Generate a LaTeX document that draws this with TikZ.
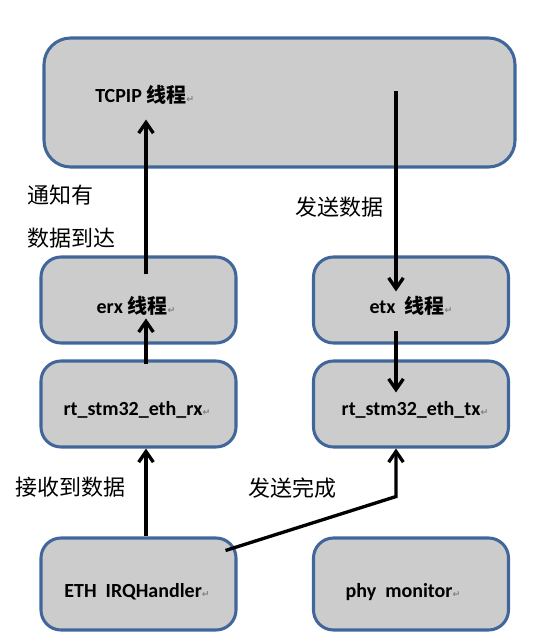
\documentclass[tikz,border=0pt]{standalone}
\usepackage{fontspec}
\setmainfont{Carlito}
\newfontfamily\cjk{Noto Sans CJK SC}
\newfontfamily\dv{DejaVu Sans}
\usetikzlibrary{arrows.meta,calc}
\definecolor{boxfill}{HTML}{CCCCCC}
\definecolor{boxline}{HTML}{41679A}
\newcommand{\pmark}{{\dv\color{gray}\fontsize{7}{7}\selectfont ↵}}
\begin{document}
\begin{tikzpicture}[x=0.75pt,y=-0.75pt,
 box/.style={draw=boxline, fill=boxfill, line width=2.3pt, rounded corners=15pt, inner sep=0pt, minimum width=146.25pt, minimum height=64.5pt},
 boxtext/.style={font=\fontsize{15}{18}\selectfont\bfseries, anchor=base, inner sep=0pt},
 lab/.style={font=\cjk\fontsize{16.5}{20}\selectfont, anchor=west, inner sep=0pt},
 arr/.style={line width=2.5pt, -{Straight Barb[length=8pt,width=11pt,line width=2.5pt]}}]
\useasboundingbox (0,0) rectangle (548,643);
% boxes
\node[box, minimum width=353.25pt, minimum height=96.75pt, rounded corners=20pt] (tcpip) at (279.5,102.5) {};
\node[box] (erx) at (138.5,300) {};
\node[box] (etx) at (411,300) {};
\node[box] (rtrx) at (138.5,404) {};
\node[box] (rttx) at (411,404) {};
\node[box, minimum height=69pt] (eth) at (138.5,584) {};
\node[box, minimum height=69pt] (phy) at (411,584) {};
% box texts
\node[boxtext, anchor=base west] (tcpipT) at (95,102) {TCPIP {\cjk 线程}\pmark};
\node[boxtext] (erxT) at (136,313) {erx {\cjk 线程}\pmark};
\node[boxtext] (etxT) at (411,313) {etx\ \ {\cjk 线程}\pmark};
\node[boxtext] (rtrxT) at (137,415) {rt\_stm32\_eth\_rx\pmark};
\node[boxtext] (rttxT) at (415,415) {rt\_stm32\_eth\_tx\pmark};
\node[boxtext] (ethT) at (137,597) {ETH\ \ IRQHandler\pmark};
\node[boxtext] (phyT) at (403,597) {phy\ \ monitor\pmark};
% labels
\node[lab] (l1) at (27,195) {通知有};
\node[lab] (l2) at (27,238) {数据到达};
\node[lab] (l3) at (295,207) {发送数据};
\node[lab] (l4) at (15,487) {接收到数据};
\node[lab] (l5) at (248,488) {发送完成};
% connectors
\coordinate (xL) at (146,0);
\coordinate (xR) at (396,0);
\draw[arr] (eth.north -| xL) -- (rtrx.south -| xL);
\draw[arr] ($(rtrx.north -| xL)+(0,5)$) -- ($(erx.north -| xL)+(0,63)$);
\draw[arr] ($(erx.north -| xL)+(0,19)$) -- ($(tcpip.south -| xL)+(0,-49)$);
\draw[arr] ($(tcpip.north -| xR)+(0,55)$) -- ($(etx.north -| xR)+(0,36)$);
\draw[arr] ($(etx.south -| xR)+(0,-14)$) -- ($(rttx.north -| xR)+(0,33)$);
\draw[arr] ($(eth.north east)+(-12,14)$) -- ($(rttx.south -| xR)+(0,48)$) -- (rttx.south -| xR);
\end{tikzpicture}
\end{document}
